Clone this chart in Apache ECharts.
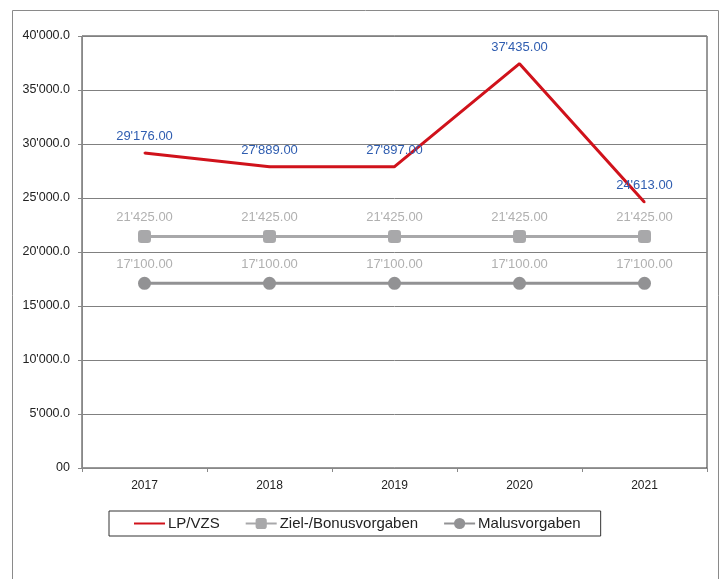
<!DOCTYPE html>
<html>
<head>
<meta charset="utf-8">
<script src="https://cdn.jsdelivr.net/npm/echarts@6/dist/echarts.min.js"></script>
<style>
  html, body { margin: 0; padding: 0; background: #fff; }
  #main { width: 726px; height: 579px; }
</style>
</head>
<body>
<div id="main"></div>
<script>
var years = ['2017', '2018', '2019', '2020', '2021'];
var lpVzs = [29176, 27889, 27897, 37435, 24613];
var zielBonus = [21425, 21425, 21425, 21425, 21425];
var malus = [17100, 17100, 17100, 17100, 17100];

// swiss style thousands separator
function swiss(v, dec) {
  var s = v.toFixed(dec);
  var parts = s.split('.');
  parts[0] = parts[0].replace(/\B(?=(\d{3})+(?!\d))/g, "'");
  return parts.join('.');
}

var myChart = echarts.init(document.getElementById('main'), null, { renderer: 'canvas' });

var font = 'Liberation Sans, Arial, sans-serif';

var option = {
  animation: false,
  textStyle: { fontFamily: font },
  graphic: [{
    type: 'rect',
    shape: { x: 12.5, y: 10.5, width: 706, height: 580 },
    style: { fill: 'none', stroke: '#8a8a8a', lineWidth: 1 }
  }],
  grid: {
    left: 82, top: 36, right: 19, bottom: 111,
    show: true, borderColor: '#333', borderWidth: 1
  },
  legend: {
    left: 109, top: 511,
    padding: [5, 20, 5, 24],
    borderColor: '#333', borderWidth: 1,
    itemGap: 25,
    itemWidth: 31, itemHeight: 14,
    textStyle: { fontSize: 15, color: '#222', fontFamily: font, padding: [0, 0, 0, -2] },
    data: [
      { name: 'LP/VZS', itemStyle: { opacity: 0 } },
      'Ziel-/Bonusvorgaben',
      'Malusvorgaben'
    ]
  },
  xAxis: {
    type: 'category',
    data: years,
    boundaryGap: true,
    axisLine: { lineStyle: { color: '#888' } },
    axisTick: { show: true, length: 4, lineStyle: { color: '#888' } },
    axisLabel: { color: '#222', fontSize: 12, margin: 12 }
  },
  yAxis: {
    type: 'value',
    min: 0, max: 40000, interval: 5000,
    axisLine: { show: true, lineStyle: { color: '#888' } },
    axisTick: { show: true, length: 4, lineStyle: { color: '#888' } },
    splitLine: { lineStyle: { color: '#808080' } },
    axisLabel: {
      color: '#222', fontSize: 12.5, margin: 12,
      formatter: function (v) { return v === 0 ? '00' : swiss(v, 1); }
    }
  },
  series: [
    {
      name: 'LP/VZS',
      type: 'line',
      data: lpVzs,
      symbol: 'circle',
      symbolSize: 2,
      lineStyle: { color: '#d0121b', width: 3 },
      itemStyle: { color: '#d0121b' },
      label: {
        show: true, position: 'top', distance: 9,
        color: '#2f5db0', fontSize: 13,
        formatter: function (p) { return swiss(p.value, 2); }
      },
      z: 3
    },
    {
      name: 'Ziel-/Bonusvorgaben',
      type: 'line',
      data: zielBonus,
      symbol: 'roundRect',
      symbolSize: 13,
      lineStyle: { color: '#a8a8aa', width: 3 },
      itemStyle: { color: '#a8a8aa' },
      label: {
        show: true, position: 'top', distance: 6,
        color: '#b0b0b0', fontSize: 13,
        formatter: function (p) { return swiss(p.value, 2); }
      }
    },
    {
      name: 'Malusvorgaben',
      type: 'line',
      data: malus,
      symbol: 'circle',
      symbolSize: 13,
      lineStyle: { color: '#929294', width: 3 },
      itemStyle: { color: '#929294' },
      label: {
        show: true, position: 'top', distance: 6,
        color: '#b0b0b0', fontSize: 13,
        formatter: function (p) { return swiss(p.value, 2); }
      }
    }
  ]
};

myChart.setOption(option);
</script>
</body>
</html>
